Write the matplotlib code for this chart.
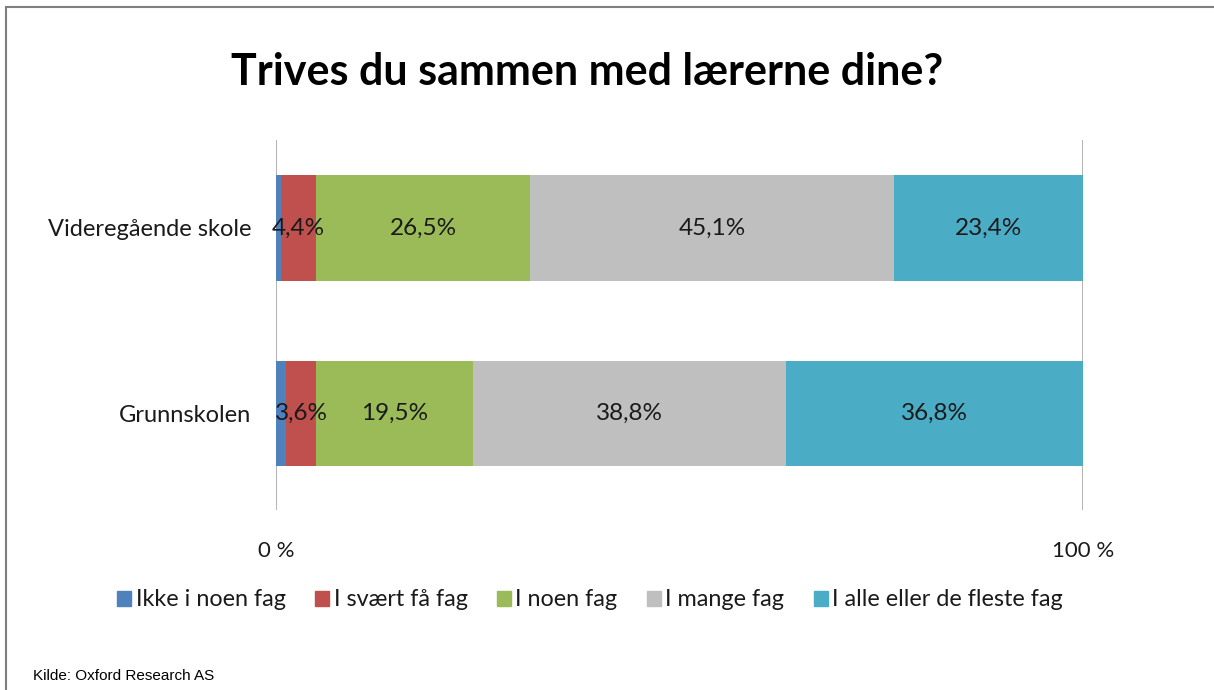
import matplotlib.pyplot as plt
from matplotlib.lines import Line2D

schools = ["Grunnskolen", "Videregående skole"]
categories = ["Ikke i noen fag", "I svært få fag", "I noen fag", "I mange fag", "I alle eller de fleste fag"]
colors = ["#4F81BD", "#C0504D", "#9BBB59", "#BFBFBF", "#4BACC6"]
# percent per category, order: Grunnskolen, Videregående skole
ikke = [1.3, 0.6]
svaert_faa = [3.6, 4.4]
noen = [19.5, 26.5]
mange = [38.8, 45.1]
alle = [36.8, 23.4]
series = [ikke, svaert_faa, noen, mange, alle]
show_label = [False, True, True, True, True]

plt.rcParams['font.family'] = ['Lato', 'DejaVu Sans']

fig = plt.figure(figsize=(12.14, 6.9), dpi=100)
ax = fig.add_axes([276/1214, 1-510/690, 807/1214, 370/690])

ypos = [0, 1]
left = [0, 0]
for vals, col, name, lab in zip(series, colors, categories, show_label):
    ax.barh(ypos, vals, left=left, height=0.571, color=col, label=name, zorder=2)
    if lab:
        for y, l, v in zip(ypos, left, vals):
            ax.text(l + v/2, y, ("%.1f%%" % v).replace(".", ","),
                    ha='center', va='center', fontsize=17.5, color='#1a1a1a', zorder=3)
    left = [a + b for a, b in zip(left, vals)]

ax.set_xlim(0, 100)
ax.set_ylim(-0.52, 1.474)
ax.set_xticks([0, 100])
ax.set_xticklabels(["0 %", "100 %"], fontsize=16, color='#1a1a1a')
ax.set_yticks(ypos)
ax.set_yticklabels(schools, fontsize=17, color='#1a1a1a')
ax.tick_params(length=0)
ax.tick_params(axis='x', pad=22)
ax.tick_params(axis='y', pad=18)
for s in ax.spines.values():
    s.set_visible(False)
ax.axvline(0, color='#A6A6A6', lw=1.2, zorder=1)
ax.axvline(100, color='#A6A6A6', lw=1.2, zorder=1)

fig.text(587/1214, 1-72/690, "Trives du sammen med lærerne dine?", ha='center', va='center',
         fontsize=31, fontweight='bold', color='black')

handles = [plt.Rectangle((0, 0), 1, 1, color=c) for c in colors]
fig.legend(handles, categories, loc='center', bbox_to_anchor=(590/1214, 1-600/690), ncol=5,
           frameon=False, fontsize=16.8, handlelength=0.6, handleheight=0.6,
           handletextpad=0.2, columnspacing=1.25, labelcolor='#1a1a1a')

fig.text(33/1214, 1-676/690, "Kilde: Oxford Research AS", ha='left', va='center',
         fontsize=11, family='Liberation Sans', color='black')

fig.add_artist(Line2D([6/1214, 6/1214], [0, 1-7/690], color='#7F7F7F', lw=1.5))
fig.add_artist(Line2D([6/1214, 1], [1-7/690, 1-7/690], color='#7F7F7F', lw=1.5))

fig.savefig("out.png", dpi=100)
